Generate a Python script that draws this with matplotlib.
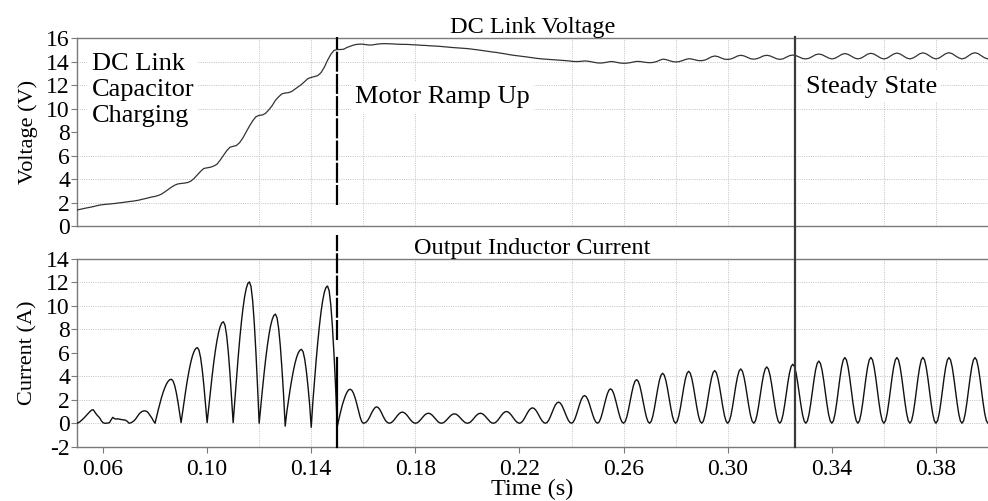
import numpy as np
import matplotlib
matplotlib.use("Agg")
import matplotlib.pyplot as plt

plt.rcParams['font.family'] = ['Liberation Serif', 'DejaVu Serif']
plt.rcParams['axes.unicode_minus'] = False

t_start, t_end = 0.05, 0.40

# DC link voltage, 8 samples per 10 ms cycle, 0.05 s .. 0.40 s
dc_voltage = [
    1.36, 1.42, 1.48, 1.54, 1.59, 1.65, 1.72, 1.78,
    1.82, 1.85, 1.87, 1.9, 1.93, 1.97, 2.0, 2.04,
    2.08, 2.11, 2.15, 2.2, 2.27, 2.33, 2.4, 2.47,
    2.52, 2.6, 2.72, 2.9, 3.1, 3.3, 3.47, 3.58,
    3.62, 3.65, 3.7, 3.82, 4.05, 4.35, 4.65, 4.9,
    4.95, 5.0, 5.1, 5.25, 5.6, 6.0, 6.4, 6.7,
    6.78, 6.85, 7.1, 7.5, 8.0, 8.5, 8.95, 9.3,
    9.42, 9.45, 9.6, 9.9, 10.25, 10.7, 11.0, 11.25,
    11.32, 11.35, 11.45, 11.65, 11.85, 12.05, 12.3, 12.55,
    12.65, 12.72, 12.8, 13.05, 13.5, 14.1, 14.6, 14.95,
    15.02, 15.02, 15.05, 15.2, 15.3, 15.4, 15.46, 15.48,
    15.47, 15.43, 15.4, 15.42, 15.47, 15.5, 15.52, 15.52,
    15.51, 15.5, 15.48, 15.47, 15.46, 15.46, 15.45, 15.43,
    15.42, 15.4, 15.38, 15.37, 15.35, 15.33, 15.32, 15.3,
    15.28, 15.25, 15.23, 15.2, 15.18, 15.16, 15.14, 15.12,
    15.1, 15.07, 15.03, 15.0, 14.96, 14.92, 14.88, 14.84,
    14.8, 14.77, 14.72, 14.68, 14.63, 14.58, 14.54, 14.5,
    14.47, 14.43, 14.4, 14.36, 14.32, 14.28, 14.25, 14.22,
    14.2, 14.18, 14.16, 14.14, 14.12, 14.1, 14.08, 14.06,
    14.02, 14.0, 14.0, 14.02, 14.05, 14.03, 13.98, 13.93,
    13.88, 13.87, 13.9, 13.95, 14.0, 13.98, 13.92, 13.87,
    13.85, 13.86, 13.9, 13.96, 14.01, 14.0, 13.96, 13.92,
    13.9, 13.92, 13.98, 14.1, 14.2, 14.17, 14.08, 14.0,
    13.96, 13.99, 14.07, 14.17, 14.24, 14.21, 14.14, 14.08,
    14.07, 14.12, 14.25, 14.4, 14.47, 14.42, 14.3, 14.2,
    14.18, 14.22, 14.33, 14.47, 14.53, 14.48, 14.36, 14.24,
    14.2, 14.24, 14.35, 14.48, 14.53, 14.48, 14.36, 14.24,
    14.18, 14.23, 14.36, 14.5, 14.55, 14.5, 14.38, 14.26,
    14.22, 14.28, 14.42, 14.58, 14.64, 14.58, 14.44, 14.3,
    14.22, 14.28, 14.43, 14.6, 14.68, 14.61, 14.45, 14.3,
    14.22, 14.29, 14.45, 14.63, 14.7, 14.63, 14.46, 14.3,
    14.22, 14.29, 14.46, 14.64, 14.72, 14.64, 14.47, 14.3,
    14.22, 14.3, 14.47, 14.66, 14.74, 14.66, 14.48, 14.31,
    14.22, 14.3, 14.48, 14.67, 14.75, 14.67, 14.48, 14.31,
    14.22, 14.3, 14.48, 14.67, 14.75, 14.67, 14.48, 14.31,
    14.22,
]

# inductor current, 16 samples per 10 ms cycle
# capacitor charging, 0.05 .. 0.15 s
current_charging = [
    0.0, 0.05, 0.15, 0.27, 0.4, 0.55, 0.7, 0.85, 1.0, 1.12, 1.15, 0.95, 0.75, 0.6, 0.45, 0.2,
    0.05, 0.0, 0.0, 0.02, 0.05, 0.3, 0.5, 0.4, 0.35, 0.38, 0.35, 0.32, 0.3, 0.28, 0.25, 0.15,
    0.0, 0.03, 0.1, 0.2, 0.35, 0.55, 0.75, 0.9, 1.0, 1.05, 1.05, 1.0, 0.85, 0.65, 0.45, 0.2,
    0.0, 0.59, 1.16, 1.7, 2.21, 2.65, 3.03, 3.34, 3.57, 3.71, 3.75, 3.62, 3.25, 2.65, 1.88, 0.97,
    0.05, 1.01, 1.99, 2.93, 3.79, 4.56, 5.22, 5.75, 6.13, 6.37, 6.45, 6.23, 5.59, 4.56, 3.23, 1.67,
    0.05, 1.35, 2.67, 3.93, 5.09, 6.12, 7.0, 7.71, 8.23, 8.55, 8.65, 8.36, 7.49, 6.12, 4.33, 2.24,
    0.05, 1.88, 3.72, 5.47, 7.09, 8.52, 9.75, 10.74, 11.46, 11.91, 12.05, 11.64, 10.44, 8.52, 6.03, 3.12,
    0.0, 1.45, 2.87, 4.22, 5.47, 6.58, 7.52, 8.29, 8.84, 9.19, 9.3, 8.98, 8.05, 6.58, 4.65, 2.41,
    -0.25, 0.98, 1.95, 2.86, 3.7, 4.45, 5.1, 5.61, 5.99, 6.22, 6.3, 6.09, 5.46, 4.45, 3.15, 1.63,
    -0.35, 1.83, 3.62, 5.31, 6.88, 8.27, 9.47, 10.42, 11.13, 11.56, 11.7, 11.3, 10.13, 8.27, 5.85, 3.03,
]
# motor ramp up and steady state, 0.15 .. 0.40 s
current_running = [
    -0.3, 0.35, 0.95, 1.5, 1.95, 2.35, 2.65, 2.85, 2.9, 2.8, 2.55, 2.15, 1.65, 1.1, 0.55, 0.15,
    0.0, 0.03, 0.12, 0.3, 0.55, 0.85, 1.1, 1.3, 1.4, 1.35, 1.2, 0.95, 0.65, 0.38, 0.17, 0.05,
    0.0, 0.04, 0.14, 0.29, 0.48, 0.66, 0.81, 0.91, 0.95, 0.91, 0.81, 0.66, 0.48, 0.29, 0.14, 0.04,
    0.0, 0.03, 0.12, 0.26, 0.43, 0.59, 0.73, 0.82, 0.85, 0.82, 0.73, 0.59, 0.43, 0.26, 0.12, 0.03,
    0.0, 0.03, 0.12, 0.25, 0.4, 0.55, 0.68, 0.77, 0.8, 0.77, 0.68, 0.55, 0.4, 0.25, 0.12, 0.03,
    0.0, 0.03, 0.12, 0.26, 0.43, 0.59, 0.73, 0.82, 0.85, 0.82, 0.73, 0.59, 0.43, 0.26, 0.12, 0.03,
    0.0, 0.04, 0.15, 0.31, 0.5, 0.69, 0.85, 0.96, 1.0, 0.96, 0.85, 0.69, 0.5, 0.31, 0.15, 0.04,
    0.0, 0.05, 0.19, 0.4, 0.66, 0.91, 1.12, 1.26, 1.31, 1.26, 1.12, 0.91, 0.66, 0.4, 0.19, 0.05,
    0.0, 0.07, 0.26, 0.56, 0.9, 1.24, 1.54, 1.73, 1.8, 1.73, 1.54, 1.24, 0.9, 0.56, 0.26, 0.07,
    0.0, 0.09, 0.34, 0.73, 1.18, 1.63, 2.02, 2.27, 2.36, 2.27, 2.02, 1.63, 1.18, 0.73, 0.34, 0.09,
    0.0, 0.11, 0.43, 0.91, 1.47, 2.02, 2.5, 2.82, 2.93, 2.82, 2.5, 2.02, 1.47, 0.91, 0.43, 0.11,
    0.0, 0.14, 0.54, 1.15, 1.86, 2.57, 3.18, 3.58, 3.72, 3.58, 3.18, 2.57, 1.86, 1.15, 0.54, 0.14,
    0.0, 0.16, 0.62, 1.32, 2.13, 2.94, 3.64, 4.1, 4.26, 4.1, 3.64, 2.94, 2.13, 1.32, 0.62, 0.16,
    0.0, 0.17, 0.65, 1.37, 2.22, 3.06, 3.78, 4.26, 4.43, 4.26, 3.78, 3.06, 2.22, 1.37, 0.65, 0.17,
    0.0, 0.17, 0.66, 1.39, 2.25, 3.1, 3.83, 4.32, 4.49, 4.32, 3.83, 3.1, 2.25, 1.39, 0.66, 0.17,
    0.0, 0.18, 0.68, 1.43, 2.32, 3.2, 3.95, 4.45, 4.63, 4.45, 3.95, 3.2, 2.32, 1.43, 0.68, 0.18,
    0.0, 0.18, 0.7, 1.48, 2.4, 3.32, 4.1, 4.62, 4.8, 4.62, 4.1, 3.32, 2.4, 1.48, 0.7, 0.18,
    0.0, 0.19, 0.73, 1.55, 2.52, 3.48, 4.3, 4.84, 5.03, 4.84, 4.3, 3.48, 2.52, 1.55, 0.73, 0.19,
    0.0, 0.2, 0.77, 1.64, 2.65, 3.66, 4.53, 5.1, 5.3, 5.1, 4.53, 3.66, 2.65, 1.64, 0.77, 0.2,
    0.0, 0.21, 0.82, 1.73, 2.8, 3.87, 4.78, 5.39, 5.6, 5.39, 4.78, 3.87, 2.8, 1.73, 0.82, 0.21,
    0.0, 0.21, 0.82, 1.73, 2.8, 3.88, 4.79, 5.4, 5.61, 5.4, 4.79, 3.88, 2.8, 1.73, 0.82, 0.21,
    0.0, 0.21, 0.82, 1.73, 2.8, 3.87, 4.78, 5.39, 5.6, 5.39, 4.78, 3.87, 2.8, 1.73, 0.82, 0.21,
    0.0, 0.21, 0.82, 1.73, 2.81, 3.88, 4.79, 5.4, 5.61, 5.4, 4.79, 3.88, 2.81, 1.73, 0.82, 0.21,
    0.0, 0.21, 0.82, 1.73, 2.8, 3.87, 4.78, 5.39, 5.6, 5.39, 4.78, 3.87, 2.8, 1.73, 0.82, 0.21,
    0.0, 0.21, 0.82, 1.73, 2.8, 3.87, 4.78, 5.39, 5.6, 5.39, 4.78, 3.87, 2.8, 1.73, 0.82, 0.21,
    0.0,
]

# phase boundaries (s)
t_ramp_start = 0.15
t_steady = 0.326

x_ticks = [0.06, 0.10, 0.14, 0.18, 0.22, 0.26, 0.30, 0.34, 0.38]
x_grid = [0.12, 0.14, 0.16, 0.18, 0.24, 0.26, 0.28, 0.30, 0.36, 0.38, 0.40]
v_grid = [2, 4, 6, 10, 12, 14]
i_grid = [0, 2, 4, 8, 10, 12]

inductor_current = current_charging + current_running
t_v = np.linspace(t_start, t_end, len(dc_voltage))
t_i = np.linspace(t_start, t_end, len(inductor_current))

fig = plt.figure(figsize=(9.88, 5.01), dpi=100)
ax1 = fig.add_axes([0.0779, 0.5489, 0.9221, 0.3752])
ax2 = fig.add_axes([0.0779, 0.1084, 0.9221, 0.3746])

spine_col = '#7a7a7a'
grid_kw = dict(color='#c2c2c2', lw=0.7, ls=(0, (1, 1.3)), zorder=0)

for ax, rows in ((ax1, v_grid), (ax2, i_grid)):
    ax.set_xlim(t_start, t_end)
    for x in x_grid:
        ax.axvline(x, **grid_kw)
    for y in rows:
        ax.axhline(y, **grid_kw)
    ax.spines['right'].set_visible(False)
    for s in ('left', 'top', 'bottom'):
        ax.spines[s].set_color(spine_col)
        ax.spines[s].set_linewidth(1.0)
    ax.tick_params(direction='out', length=4, width=0.8, color=spine_col,
                   labelsize=17, pad=1)

# top: DC link voltage
ax1.plot(t_v, dc_voltage, color='#333333', lw=0.9, zorder=3)
ax1.set_ylim(0, 16)
ax1.set_yticks(range(0, 17, 2))
ax1.set_xticks([])
ax1.set_title('DC Link Voltage', fontsize=17.5, pad=2)
ax1.set_ylabel('Voltage (V)', fontsize=16)
ax1.yaxis.set_label_coords(-0.043, 0.5)

box = dict(facecolor='white', edgecolor='none', pad=3)
ax1.text(0.0556, 14.75, 'DC Link\nCapacitor\nCharging', fontsize=19,
         va='top', ha='left', linespacing=1.25, bbox=box, zorder=4)
ax1.text(0.1569, 10.95, 'Motor Ramp Up', fontsize=19, va='center',
         ha='left', bbox=box, zorder=4)
ax1.text(0.330, 11.87, 'Steady State', fontsize=19, va='center',
         ha='left', bbox=box, zorder=4)

# bottom: output inductor current
ax2.plot(t_i, inductor_current, color='#111111', lw=1.0, zorder=3)
ax2.set_ylim(-2, 14)
ax2.set_yticks(range(-2, 15, 2))
ax2.set_xticks(x_ticks)
ax2.set_xticklabels(['%.2f' % x for x in x_ticks])
ax2.tick_params(axis='x', pad=5)
ax2.set_title('Output Inductor Current', fontsize=17.5, pad=3)
ax2.set_ylabel('Current (A)', fontsize=16)
ax2.yaxis.set_label_coords(-0.043, 0.5)
ax2.set_xlabel('Time (s)', fontsize=17.5)
ax2.xaxis.set_label_coords(0.5, -0.17)

# phase markers
ax1.axvline(t_ramp_start, ymin=0.11, ymax=1.006, clip_on=False,
            color='black', lw=1.6, ls=(0, (9, 1)), zorder=5)
ax2.axvline(t_ramp_start, ymin=0.0, ymax=0.47, clip_on=False,
            color='black', lw=1.6, zorder=5)
ax2.axvline(t_ramp_start, ymin=0.57, ymax=1.13, clip_on=False,
            color='black', lw=1.6, ls=(0, (9, 1)), zorder=5)
ax2.axvline(t_steady, ymin=0.0, ymax=2.183, clip_on=False,
            color='#3a3a3a', lw=1.6, zorder=5)

fig.savefig('out.png', dpi=100)
